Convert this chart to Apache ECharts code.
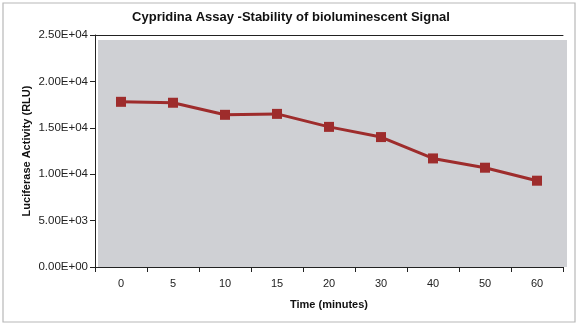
<!DOCTYPE html>
<html><head><meta charset="utf-8">
<script src="https://cdn.jsdelivr.net/npm/echarts@6/dist/echarts.min.js"></script>
<style>html,body{margin:0;padding:0;background:#fff}#c{width:582px;height:328px}</style>
</head><body><div id="c"></div>
<script>
const categories = ['0','5','10','15','20','30','40','50','60'];
const luciferase = [17800, 17700, 16400, 16500, 15100, 14000, 11700, 10700, 9300];
const yTicks = [0, 5000, 10000, 15000, 20000, 25000];

function fmt(v){
  if (v === 0) return '0.00E+00';
  const e = Math.floor(Math.log10(v));
  const m = v / Math.pow(10, e);
  return m.toFixed(2) + 'E+' + String(e).padStart(2,'0');
}
const chart = echarts.init(document.getElementById('c'));
const font = 'Liberation Sans';
chart.setOption({
  animation: false,
  backgroundColor: '#fff',
  graphic: [
    {type:'rect', z:-1, shape:{x:3,y:3,width:572,height:319}, style:{fill:'none', stroke:'#b8b8b8', lineWidth:1.2}},
    {type:'rect', z:-1, shape:{x:98,y:40,width:469,height:227}, style:{fill:'#cfd0d4'}}
  ],
  title: {text:'Cypridina Assay -Stability of bioluminescent Signal', left: 'center', top: 6,
    textStyle:{fontFamily:font, fontSize:13, fontWeight:'bold', color:'#111'}},
  grid: {left:95, right:19, top:35, bottom:61, show:false},
  xAxis: [{type:'category', data:categories, boundaryGap:true,
    name:'Time (minutes)', nameLocation:'middle', nameGap:32,
    nameTextStyle:{fontFamily:font, fontSize:11, fontWeight:'bold', color:'#111'},
    axisLine:{lineStyle:{color:'#222', width:1}},
    axisTick:{show:true, length:5, lineStyle:{color:'#222'}},
    axisLabel:{fontFamily:font, fontSize:11, color:'#222', margin:11}},
   {type:'category', position:'top', data:categories, axisLine:{show:true, lineStyle:{color:'#222'}}, axisTick:{show:false}, axisLabel:{show:false}}],
  yAxis: {type:'value', min:0, max:25000, interval:5000,
    name:'Luciferase Activity (RLU)', nameLocation:'middle', nameGap:63, nameMoveOverlap:false,
    nameTextStyle:{fontFamily:font, fontSize:11, fontWeight:'bold', color:'#111'},
    axisLine:{show:true, lineStyle:{color:'#222'}},
    axisTick:{show:true, length:5, lineStyle:{color:'#222'}},
    splitLine:{show:false},
    axisLabel:{fontFamily:font, fontSize:11.5, color:'#222', margin:7, formatter:v=>fmt(v)}},
  series: [{type:'line', data:luciferase, symbol:'rect', symbolSize:10,
    lineStyle:{color:'#9e2c2c', width:3}, itemStyle:{color:'#9e2c2c'}}]
});
</script></body></html>
